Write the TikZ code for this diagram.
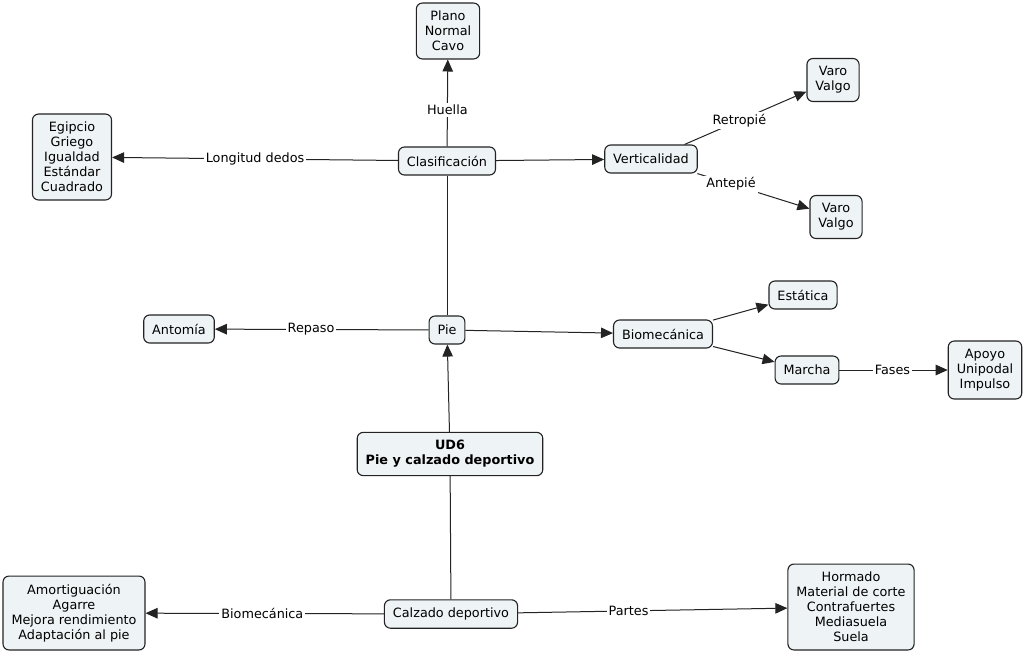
\documentclass[tikz,border=0pt]{standalone}
\usepackage{fontspec}
\setmainfont{DejaVu Sans}
\usetikzlibrary{arrows.meta}
\definecolor{boxfill}{RGB}{238,243,246}
\definecolor{boxline}{RGB}{35,35,35}
\tikzset{
  concept/.style   = {draw=boxline,fill=boxfill,rounded corners=6pt,line width=1.1pt,
                      align=center,inner xsep=8.5pt,inner ysep=8pt,minimum height=28pt,
                      font=\fontsize{12.8}{15}\selectfont},
  link/.style      = {-{Triangle[length=12pt,width=10.5pt]},line width=1pt,draw=boxline},
  plainlink/.style = {line width=1pt,draw=boxline},
  lbl/.style       = {fill=white,inner sep=2pt,font=\fontsize{12.8}{15}\selectfont}
}

\begin{document}
\begin{tikzpicture}[x=1pt,y=-1pt]
  \fill[white] (0,0) rectangle (1024,656);
  \useasboundingbox (0,0) rectangle (1024,656);
  % concepts
  \node[concept] (plano)    at (448,31)  {Plano\\Normal\\Cavo};
  \node[concept] (clasif)   at (447,161) {Clasificación};
  \node[concept] (dedos)    at (72,157)  {Egipcio\\Griego\\Igualdad\\Estándar\\Cuadrado};
  \node[concept] (vertical) at (651,159) {Verticalidad};
  \node[concept] (retro)    at (833,80)  {Varo\\Valgo};
  \node[concept] (ante)     at (836,217) {Varo\\Valgo};
  \node[concept] (antomia)  at (179,329) {Antomía};
  \node[concept] (pie)      at (447,330) {Pie};
  \node[concept] (biomec)   at (663,334) {Biomecánica};
  \node[concept] (estatica) at (803,295) {Estática};
  \node[concept] (marcha)   at (807,370) {Marcha};
  \node[concept] (fases)    at (985,370) {Apoyo\\Unipodal\\Impulso};
  \node[concept,font=\fontsize{12.8}{15}\selectfont\bfseries] (ud) at (450,454) {UD6\\Pie y calzado deportivo};
  \node[concept] (calzado)  at (451,614) {Calzado deportivo};
  \node[concept] (amort)    at (74,613)  {Amortiguación\\Agarre\\Mejora rendimiento\\Adaptación al pie};
  \node[concept] (partes)   at (851,607) {Hormado\\Material de corte\\Contrafuertes\\Mediasuela\\Suela};
  % links
  \draw[link] (clasif) -- node[lbl,pos=.42] {Huella} (plano);
  \draw[link] (clasif) -- node[lbl] {Longitud dedos} (dedos);
  \draw[link] (clasif) -- (vertical);
  \draw[link] (vertical) -- node[lbl,pos=.45] {Retropié} (retro);
  \draw[link] (vertical) -- node[lbl,pos=.3] {Antepié} (ante);
  \draw[plainlink] (pie) -- (clasif);
  \draw[link] (pie) -- node[lbl,pos=.55] {Repaso} (antomia);
  \draw[link] (pie) -- (biomec);
  \draw[link] (biomec) -- (estatica);
  \draw[link] (biomec) -- (marcha);
  \draw[link] (marcha) -- node[lbl,pos=.49] {Fases} (fases);
  \draw[link] (ud) -- (pie);
  \draw[plainlink] (ud) -- (calzado);
  \draw[link] (calzado) -- node[lbl,pos=.51] {Biomecánica} (amort);
  \draw[link] (calzado) -- node[lbl,pos=.41] {Partes} (partes);
\end{tikzpicture}
\end{document}
